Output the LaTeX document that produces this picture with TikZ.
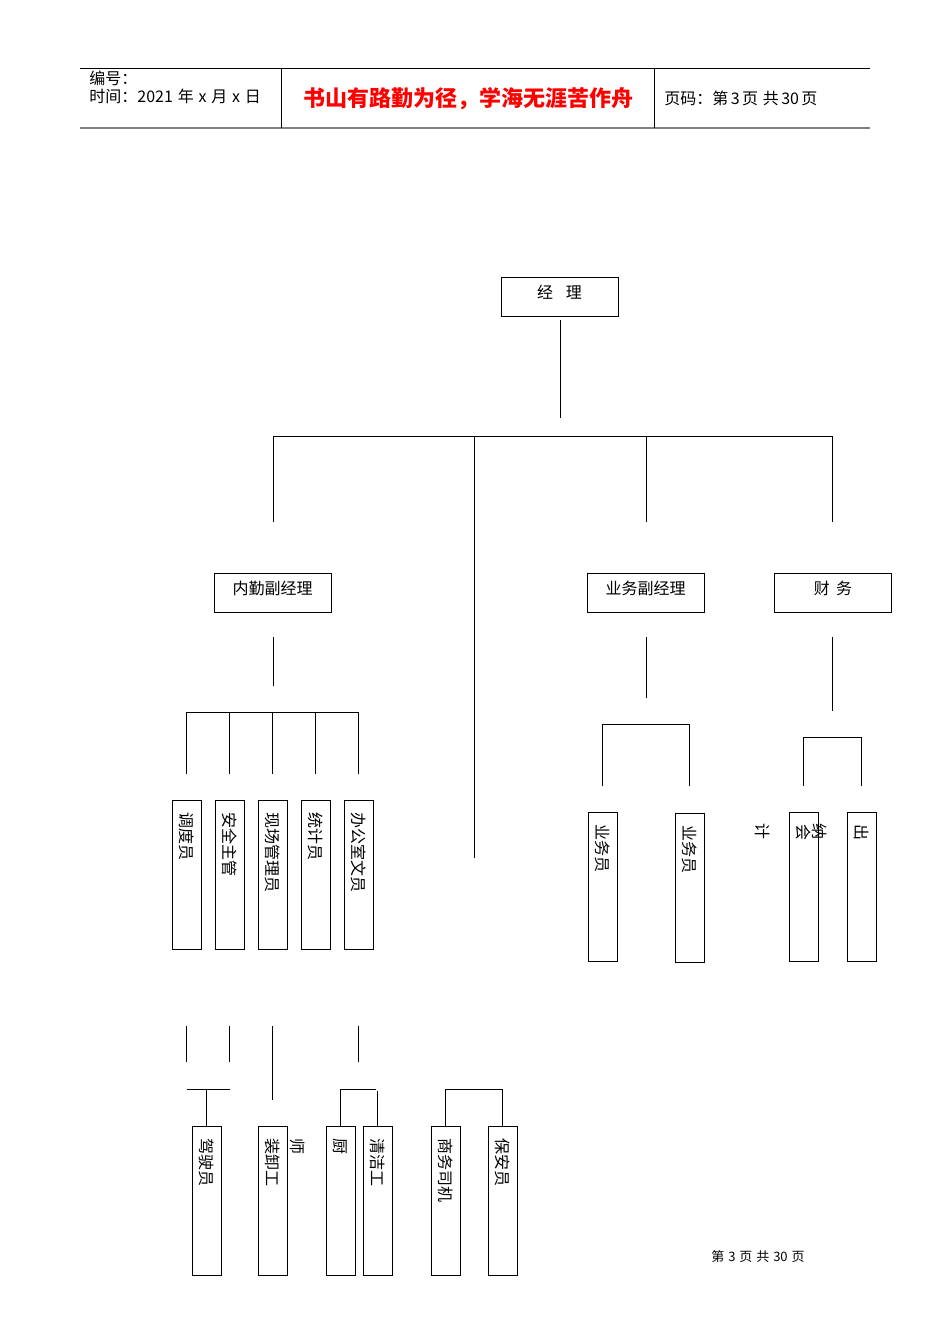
\documentclass[tikz,border=0pt]{standalone}
\usepackage{fontspec}
\setmainfont{Liberation Sans}
\newfontfamily\cjk{Noto Sans CJK SC}

\begin{document}
\begin{tikzpicture}
        [x=1pt, y=-1pt,
        hbox/.style={draw, rectangle, minimum width=117, minimum height=39, text height=11, text depth=8, font=\cjk\fontsize{16}{16}\selectfont},
        vbox/.style={draw, rectangle, rotate=-90, minimum height=29, text width=125, inner xsep=12, align=left, font=\cjk\fontsize{16}{16}\selectfont},
        vtext/.style={rotate=-90, inner sep=0pt, font=\cjk\fontsize{16}{16}\selectfont},
        head/.style={anchor=west, inner sep=0pt, font=\cjk\fontsize{16}{16}\selectfont},
        every path/.style={line width=0.9pt}]
        \useasboundingbox (0,0) rectangle (950,1344);
        % header
        \draw (80,68) -- (870,68);
        \draw[gray, line width=2pt] (80,128) -- (870,128);
        \draw (281,68) -- (281,128);
        \draw (654,68) -- (654,128);
        \node[head] (hno) at (89,78) {编号：};
        \node[head] (htime) at (89,96) {时间：2021\hspace{0.3em}年\hspace{0.3em}x\hspace{0.3em}月\hspace{0.3em}x\hspace{0.3em}日};
        \node[font=\cjk\fontsize{22}{22}\selectfont\bfseries, text=red, inner sep=0pt] (motto) at (468,99) {书山有路勤为径，学海无涯苦作舟};
        \node[head] (hpage) at (664,98) {页码：第\hspace{0.15em}3\hspace{0.15em}页\hspace{0.3em}共\hspace{0.15em}30\hspace{0.15em}页};
        % boxes
        \node[hbox] (jl) at (559.5,297) {经\hspace{0.8em}理};
        \node[hbox] (nq) at (272.5,592.5) {内勤副经理};
        \node[hbox] (yf) at (645.5,592.5) {业务副经理};
        \node[hbox] (cw) at (833,592.5) {财\hspace{0.4em}务};
        \node[vbox] (dd) at (186.5,874.5) {调度员};
        \node[vbox] (aq) at (229.5,874.5) {安全主管};
        \node[vbox] (xc) at (272.5,874.5) {现场管理员};
        \node[vbox] (tj) at (315.5,874.5) {统计员};
        \node[vbox] (bg) at (358.5,874.5) {办公室文员};
        \node[vbox] (yw1) at (602.5,886.5) {业务员};
        \node[vbox] (yw2) at (689.5,888) {业务员};
        \node[vbox] (kj) at (803.5,886.5) {会};
        \node[vbox] (cn) at (861.5,886.5) {出};
        \node[vtext] (ji) at (763,831) {计};
        \node[vtext] (na) at (820,831) {纳};
        \node[vbox] (js) at (206.5,1200.5) {驾驶员};
        \node[vbox] (zx) at (272.5,1200.5) {装卸工};
        \node[vtext] (shi) at (298,1146) {师};
        \node[vbox] (cs) at (340.5,1200.5) {厨};
        \node[vbox] (qj) at (377.5,1200.5) {清洁工};
        \node[vbox] (sw) at (445.5,1200.5) {商务司机};
        \node[vbox] (ba) at (502.5,1200.5) {保安员};
        \node[inner sep=0pt, font=\cjk\fontsize{13}{13}\selectfont] (foot) at (758,1257) {第\hspace{0.3em}3\hspace{0.3em}页\hspace{0.3em}共\hspace{0.3em}30\hspace{0.3em}页};
        % top level
        \coordinate (m0) at (560,320);
        \coordinate (m1) at (560,418);
        \coordinate (t1) at (273,436);
        \coordinate (t2) at (474,436);
        \coordinate (t3) at (646,436);
        \coordinate (t4) at (832,436);
        \draw (m0) -- (m1);
        \draw (t1) -- (t4);
        \draw (t1) -- (273,522);
        \draw (t2) -- (474,858);
        \draw (t3) -- (646,522);
        \draw (t4) -- (832,522);
        % inner
        \coordinate (n1) at (273,637);
        \coordinate (n2) at (273,686);
        \coordinate (nbar) at (0,712);
        \coordinate (nend) at (0,774);
        \draw (n1) -- (n2);
        \draw (dd |- nbar) -- (bg |- nbar);
        \foreach \n in {dd,aq,xc,tj,bg}
            \draw (\n |- nbar) -- (\n |- nend);
        % business
        \coordinate (y1) at (646,637);
        \coordinate (y2) at (646,698);
        \coordinate (ybar) at (0,724);
        \coordinate (yend) at (0,786);
        \draw (y1) -- (y2);
        \draw (yw1 |- yend) -- (yw1 |- ybar) -- (yw2 |- ybar) -- (yw2 |- yend);
        % finance
        \coordinate (c1) at (832,637);
        \coordinate (c2) at (832,711);
        \coordinate (cbar) at (0,737);
        \draw (c1) -- (c2);
        \draw (kj |- yend) -- (kj |- cbar) -- (cn |- cbar) -- (cn |- yend);
        % lower level
        \coordinate (l1) at (0,1026);
        \coordinate (l2) at (0,1062);
        \coordinate (l3) at (0,1100);
        \coordinate (lbar) at (0,1089);
        \coordinate (lend) at (0,1126);
        \draw (dd |- l1) -- (dd |- l2);
        \draw (aq |- l1) -- (aq |- l2);
        \draw (xc |- l1) -- (xc |- l3);
        \draw (bg |- l1) -- (bg |- l2);
        \draw (dd |- lbar) -- (aq |- lbar);
        \draw (js |- lbar) -- (js.west);
        \draw (cs.west) -- (cs |- lbar) -- (376,1089);
        \draw (qj |- 0,1091) -- (qj.west);
        \draw (sw.west) -- (sw |- lbar) -- (ba |- lbar) -- (ba.west);
    \end{tikzpicture}
\end{document}
